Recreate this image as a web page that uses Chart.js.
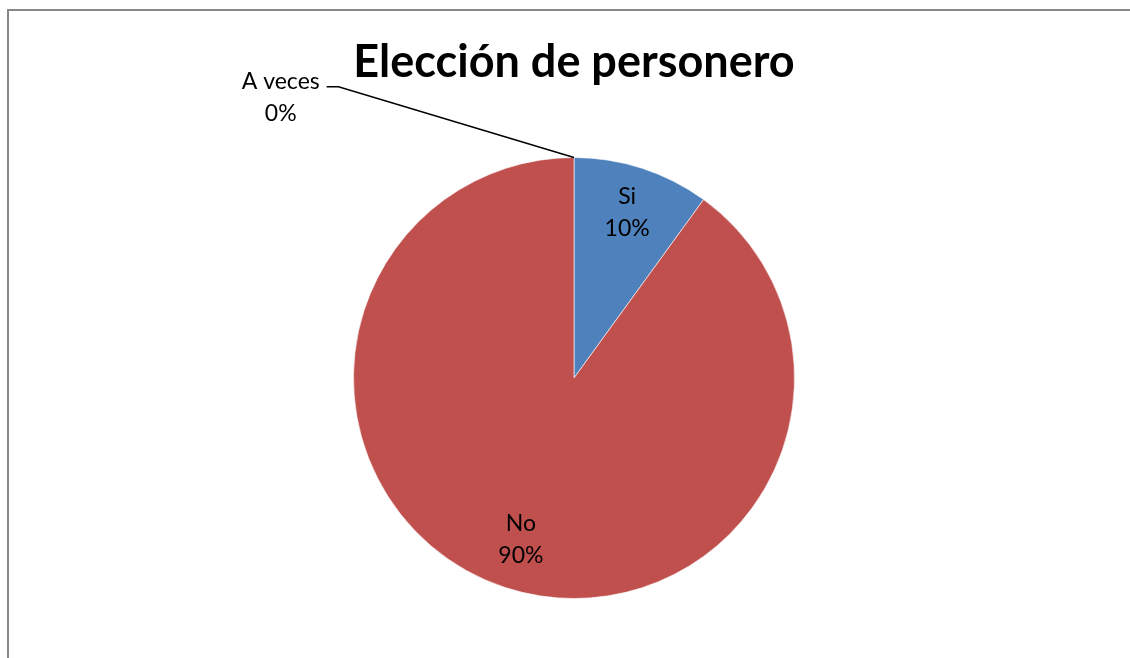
<!DOCTYPE HTML>
<html>
<head>
  <script src="https://cdn.jsdelivr.net/npm/chart.js"></script>
  <style>
    body { margin: 0; overflow: hidden; background: #fff; }
    #wrap { position: relative; width: 1130px; height: 658px; }
    #frame { position: absolute; left: 7px; top: 9px; width: 1140px; height: 670px;
             border-left: 2px solid #888; border-top: 2px solid #888; }
    canvas { position: absolute; left: 0; top: 0; }
  </style>
</head>
<body>
  <div id="wrap">
    <div id="frame"></div>
    <canvas id="pieChartID" width="1130" height="658"></canvas>
  </div>

  <script>
    // chart values
    var categories = ['Si', 'No', 'A veces'];
    var percents = [10, 90, 0];
    var sliceColors = ['#4F81BD', '#C0504D', '#9BBB50'];

    var labelFont = '23px Lato, "Liberation Sans", sans-serif';

    // draws the data labels (inside for slices, with leader line for the empty one)
    var sliceLabels = {
      id: 'sliceLabels',
      afterDatasetsDraw: function(chart) {
        var ctx = chart.ctx;
        var arcs = chart.getDatasetMeta(0).data;
        ctx.save();
        ctx.font = labelFont;
        ctx.fillStyle = '#000';
        ctx.textAlign = 'center';
        ctx.textBaseline = 'middle';
        arcs.forEach(function(arc, i) {
          var r = arc.outerRadius;
          var mid = (arc.startAngle + arc.endAngle) / 2;
          var lx, ly;
          if (percents[i] > 0) {
            lx = arc.x + Math.cos(mid) * r * 0.78;
            ly = arc.y + Math.sin(mid) * r * 0.78 - 2;
          } else {
            // leader line from the arc edge to the label
            var px = arc.x + Math.cos(arc.startAngle) * r;
            var py = arc.y + Math.sin(arc.startAngle) * r;
            var ex = arc.x - r * 1.068, ey = arc.y - r * 1.321;
            ctx.strokeStyle = '#000';
            ctx.lineWidth = 1.5;
            ctx.beginPath();
            ctx.moveTo(px, py);
            ctx.lineTo(ex, ey);
            ctx.lineTo(arc.x - r * 1.122, ey);
            ctx.stroke();
            lx = arc.x - r * 1.33;
            ly = arc.y - r * 1.272;
          }
          ctx.fillText(categories[i], lx, ly - 16);
          ctx.fillText(percents[i] + '%', lx, ly + 16);
        });
        ctx.restore();
      }
    };

    var myContext = document.getElementById('pieChartID').getContext('2d');
    var myChart = new Chart(myContext, {
      type: 'pie',
      data: {
        labels: categories,
        datasets: [{
          data: percents,
          backgroundColor: sliceColors,
          borderColor: 'rgba(255,255,255,0.6)',
          borderWidth: 1
        }]
      },
      options: {
        responsive: false,
        animation: false,
        layout: { padding: { left: 18, right: 0, top: 0, bottom: 59 } },
        plugins: {
          legend: { display: false },
          tooltip: { enabled: false },
          title: {
            display: true,
            text: 'Elección de personero',
            color: '#000',
            font: { family: 'Lato, "Liberation Sans", sans-serif', size: 45, weight: 'bold', lineHeight: 1.2 },
            padding: { top: 35, bottom: 68 }
          }
        }
      },
      plugins: [sliceLabels]
    });
  </script>
</body>
</html>
